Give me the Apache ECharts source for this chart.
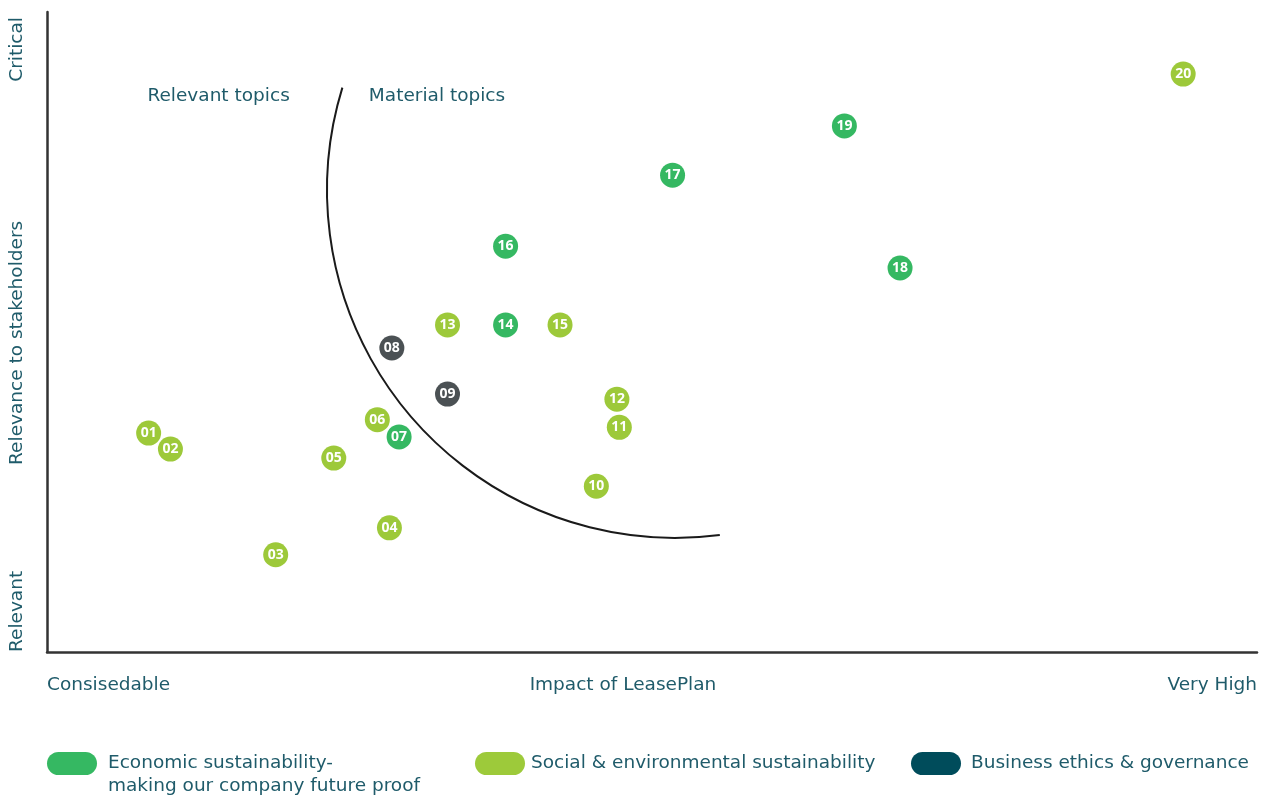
<!DOCTYPE html>
<html>
<head>
<meta charset="utf-8">
<style>
  html, body { margin: 0; padding: 0; background: #ffffff; }
  #chart { width: 1266px; height: 796px; }
</style>
<script src="https://cdn.jsdelivr.net/npm/echarts@6/dist/echarts.min.js"></script>
</head>
<body>
<div id="chart"></div>
<script>
// ---- data ----
const ids       = ['01','02','03','04','05','06','07','08','09','10','11','12','13','14','15','16','17','18','19','20'];
const impact    = [8.4, 10.2, 18.9, 28.3, 23.7, 27.3, 29.1, 28.5, 33.1, 45.4, 47.3, 47.1, 33.1, 37.9, 42.4, 37.9, 51.7, 70.5, 65.9, 93.9];
const relevance = [34.2, 31.7, 15.2, 19.4, 30.3, 36.3, 33.6, 47.5, 40.3, 25.9, 35.1, 39.5, 51.1, 51.1, 51.1, 63.4, 74.5, 60.0, 82.2, 90.3];
const groups    = ['soc','soc','soc','soc','soc','soc','eco','gov','gov','soc','soc','soc','soc','eco','soc','eco','eco','eco','eco','soc'];

const groupKeys   = ['soc', 'eco', 'gov'];
const groupNames  = {
  eco: 'Economic sustainability-\nmaking our company future proof',
  soc: 'Social & environmental sustainability',
  gov: 'Business ethics & governance'
};
const xLabels = ['Consisedable', 'Impact of LeasePlan', 'Very High'];
const yLabels = ['Relevant', 'Relevance to stakeholders', 'Critical'];
const zoneLabels = ['Relevant topics', 'Material topics'];

// materiality boundary (circle arc) described in data units
const curveCenter = [51.9, 72.2];
const curveRadiusX = 28.76;
const curveAngles = [82.6, 197.1];

// ---- styles ----
const pointColors  = { eco: '#35b862', soc: '#9dc93a', gov: '#4b5154' };
const legendColors = { eco: '#35b862', soc: '#9dca3a', gov: '#004c5b' };
const textColor = '#1f5b6a';
const font = 'DejaVu Sans';
const fontSize = 18.5;
const pillIcon = 'path://M11.5,0 H38.5 A11.5,11.5 0 0 1 38.5,23 H11.5 A11.5,11.5 0 0 1 11.5,0 Z';

const chart = echarts.init(document.getElementById('chart'));

const series = groupKeys.map(function (g) {
  const data = [];
  for (let i = 0; i < ids.length; i++) {
    if (groups[i] === g) data.push({ value: [impact[i], relevance[i]], name: ids[i] });
  }
  return {
    type: 'scatter',
    name: groupNames[g],
    data: data,
    symbolSize: 25,
    itemStyle: { color: pointColors[g], opacity: 1 },
    label: {
      show: true,
      position: 'inside',
      formatter: function (p) { return p.name; },
      color: '#ffffff',
      fontFamily: 'Noto Sans',
      fontWeight: 'bold',
      fontSize: 14
    },
    emphasis: { disabled: true },
    z: 3
  };
});

const legendPos = { eco: [47, 729, 6], soc: [475, 752, 1], gov: [911, 752, 5] };
const legends = ['eco', 'soc', 'gov'].map(function (g) {
  return {
    left: legendPos[g][0],
    top: legendPos[g][1],
    padding: 0,
    orient: 'horizontal',
    icon: pillIcon,
    itemWidth: 50,
    itemHeight: 23,
    selectedMode: false,
    data: [{ name: groupNames[g], icon: pillIcon, itemStyle: { color: legendColors[g] } }],
    formatter: function (name) { return g === 'eco' ? '\n' + name : name; },
    textStyle: {
      color: textColor,
      fontFamily: font,
      fontSize: fontSize,
      lineHeight: 23,
      padding: [0, 0, 0, legendPos[g][2]]
    }
  };
});

function txt(x, y, text, align, vAlign, rotation) {
  return {
    type: 'text',
    x: x, y: y,
    rotation: rotation || 0,
    silent: true,
    style: {
      text: text,
      fill: textColor,
      font: fontSize + 'px "' + font + '"',
      align: align,
      verticalAlign: vAlign
    }
  };
}

chart.setOption({
  animation: false,
  backgroundColor: '#ffffff',
  grid: { left: 47, right: 9, top: 12, bottom: 144 },
  xAxis: {
    type: 'value', min: 0, max: 100,
    axisLine: { show: true, lineStyle: { color: '#333333', width: 2.5 } },
    axisTick: { show: false }, axisLabel: { show: false }, splitLine: { show: false }
  },
  yAxis: {
    type: 'value', min: 0, max: 100,
    axisLine: { show: true, lineStyle: { color: '#333333', width: 2.5 } },
    axisTick: { show: false }, axisLabel: { show: false }, splitLine: { show: false }
  },
  legend: legends,
  series: series
});

// decorations positioned through the chart's scales
const c = chart.convertToPixel('grid', curveCenter);
const edge = chart.convertToPixel('grid', [curveCenter[0] + curveRadiusX, curveCenter[1]]);
const r = edge[0] - c[0];
const gridLeft = chart.convertToPixel('grid', [0, 0]);
const gridTop = chart.convertToPixel('grid', [100, 100]);
const midX = chart.convertToPixel('grid', [47.6, 0])[0];
const yMid = chart.convertToPixel('grid', [0, 48.3])[1];
const zoneY = chart.convertToPixel('grid', [0, 86.9])[1];
const zone1X = chart.convertToPixel('grid', [8.3, 0])[0];
const zone2X = chart.convertToPixel('grid', [26.6, 0])[0];

chart.setOption({
  graphic: [
    {
      type: 'arc',
      silent: true,
      shape: {
        cx: c[0], cy: c[1], r: r,
        startAngle: curveAngles[0] * Math.PI / 180,
        endAngle: curveAngles[1] * Math.PI / 180,
        clockwise: true
      },
      style: { stroke: '#1a1a1a', lineWidth: 2, fill: null },
      z: 2
    },
    txt(gridLeft[0], gridLeft[1] + 33, xLabels[0], 'left', 'middle'),
    txt(midX, gridLeft[1] + 33, xLabels[1], 'center', 'middle'),
    txt(gridTop[0], gridLeft[1] + 33, xLabels[2], 'right', 'middle'),
    txt(17, gridLeft[1], yLabels[0], 'left', 'middle', Math.PI / 2),
    txt(17, yMid, yLabels[1], 'center', 'middle', Math.PI / 2),
    txt(17, gridTop[1] + 5, yLabels[2], 'right', 'middle', Math.PI / 2),
    txt(zone1X, zoneY, zoneLabels[0], 'left', 'middle'),
    txt(zone2X, zoneY, zoneLabels[1], 'left', 'middle')
  ]
});
</script>
</body>
</html>
